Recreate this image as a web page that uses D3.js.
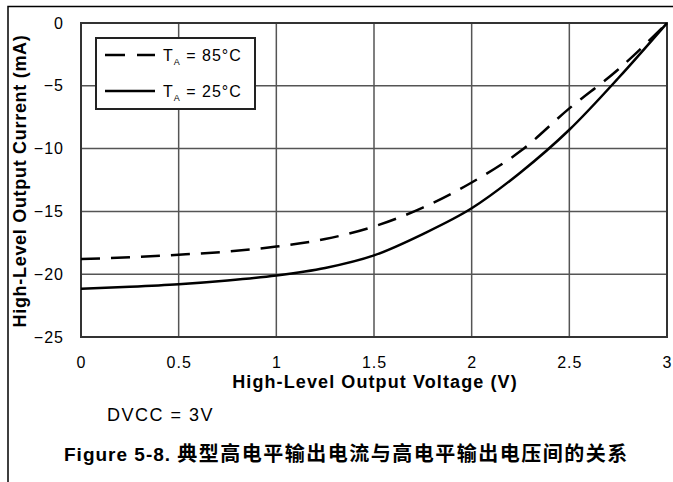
<!DOCTYPE html>
<html>
<head>
<meta charset="utf-8">
<script src="https://cdn.jsdelivr.net/npm/d3@7"></script>
<style>
  body { margin: 0; background: #fff; }
  svg { font-family: "Liberation Sans", Arial, "Noto Sans CJK SC", sans-serif; }
</style>
</head>
<body>
<svg id="chart" width="673" height="482"></svg>
<script>
// voltage (V)
const voltage = [0, 0.25, 0.5, 0.75, 1.0, 1.25, 1.5, 1.75, 2.0, 2.25, 2.5, 2.75, 3.0];
// current (mA) at TA = 85C
const current85 = [-18.8, -18.65, -18.45, -18.2, -17.8, -17.2, -16.2, -14.7, -12.7, -10.2, -6.8, -3.7, 0];
// current (mA) at TA = 25C
const current25 = [-21.15, -21.0, -20.8, -20.5, -20.1, -19.5, -18.5, -16.8, -14.75, -11.9, -8.5, -4.4, 0];
const xTicks = [0, 0.5, 1, 1.5, 2, 2.5, 3];
const yTicks = [0, -5, -10, -15, -20, -25];
const xTickLabels = ["0", "0.5", "1", "1.5", "2", "2.5", "3"];

const margin = {top: 23, right: 6, bottom: 145, left: 81};
const width = 673 - margin.left - margin.right;
const height = 482 - margin.top - margin.bottom;

const svg = d3.select("#chart");

// figure frame
svg.append("path")
    .attr("d", "M8,482 L8,6.5 L673,6.5")
    .attr("fill", "none")
    .attr("stroke", "#000")
    .attr("stroke-width", 1.5);

const g = svg.append("g").attr("transform", `translate(${margin.left},${margin.top})`);

const x = d3.scaleLinear().domain([0, 3]).range([0, width]);
const y = d3.scaleLinear().domain([-25, 0]).range([height, 0]);

// grid
g.append("g")
    .selectAll("line")
    .data(xTicks)
    .join("line")
    .attr("x1", d => x(d)).attr("x2", d => x(d))
    .attr("y1", 0).attr("y2", height)
    .attr("stroke", "#555").attr("stroke-width", 1.5);

g.append("g")
    .selectAll("line")
    .data(yTicks)
    .join("line")
    .attr("x1", 0).attr("x2", width)
    .attr("y1", d => y(d)).attr("y2", d => y(d))
    .attr("stroke", "#555").attr("stroke-width", 1.5);

g.append("rect")
    .attr("width", width).attr("height", height)
    .attr("fill", "none").attr("stroke", "#333").attr("stroke-width", 2);

// axes (labels only)
const xAxis = g.append("g")
    .attr("transform", `translate(0,${height})`)
    .call(d3.axisBottom(x).tickValues(xTicks).tickFormat((d, i) => xTickLabels[i]).tickSize(0).tickPadding(20));
xAxis.select(".domain").remove();
xAxis.selectAll("text")
    .attr("font-size", 16).attr("fill", "#000")
    .attr("letter-spacing", 1)
    .attr("font-family", "Liberation Sans, Arial, sans-serif");

const yAxis = g.append("g")
    .call(d3.axisLeft(y).tickValues(yTicks).tickFormat(d3.format("d")).tickSize(0).tickPadding(17));
yAxis.select(".domain").remove();
yAxis.selectAll("text")
    .attr("font-size", 16).attr("fill", "#000")
    .attr("letter-spacing", 1)
    .attr("font-family", "Liberation Sans, Arial, sans-serif");

// curves
const line = d3.line()
    .x(d => x(d[0]))
    .y(d => y(d[1]))
    .curve(d3.curveMonotoneX);

g.append("path")
    .datum(voltage.map((v, i) => [v, current85[i]]))
    .attr("d", line)
    .attr("fill", "none")
    .attr("stroke", "#000")
    .attr("stroke-width", 2.5)
    .attr("stroke-dasharray", "19,11");

g.append("path")
    .datum(voltage.map((v, i) => [v, current25[i]]))
    .attr("d", line)
    .attr("fill", "none")
    .attr("stroke", "#000")
    .attr("stroke-width", 2.5);

// legend
const legend = svg.append("g").attr("transform", "translate(96,38)");
legend.append("rect")
    .attr("width", 159).attr("height", 71)
    .attr("fill", "#fff").attr("stroke", "#222").attr("stroke-width", 2);

const legendItems = [
    {label: "85°C", dash: "20,12", y: 17},
    {label: "25°C", dash: null, y: 53}
];
legendItems.forEach(item => {
    legend.append("line")
        .attr("x1", 9).attr("x2", 59)
        .attr("y1", item.y).attr("y2", item.y)
        .attr("stroke", "#000").attr("stroke-width", 2.5)
        .attr("stroke-dasharray", item.dash);
    const t = legend.append("text")
        .attr("x", 67).attr("y", item.y + 6)
        .attr("font-size", 16)
        .attr("letter-spacing", 1);
    t.append("tspan").text("T");
    t.append("tspan").attr("font-size", 9).attr("dy", 4).text("A");
    t.append("tspan").attr("dy", -4).text(" = " + item.label);
});

// axis titles
svg.append("text")
    .attr("x", 375).attr("y", 388)
    .attr("text-anchor", "middle")
    .attr("font-size", 18).attr("font-weight", "bold")
    .attr("letter-spacing", 1.1)
    .text("High-Level Output Voltage (V)");

svg.append("text")
    .attr("transform", "translate(26,181) rotate(-90)")
    .attr("text-anchor", "middle")
    .attr("font-size", 18).attr("font-weight", "bold")
    .attr("letter-spacing", 0.7)
    .text("High-Level Output Current (mA)");

svg.append("text")
    .attr("x", 107).attr("y", 421)
    .attr("font-size", 18)
    .attr("letter-spacing", 1.5)
    .text("DVCC = 3V");

const caption = svg.append("text")
    .attr("x", 64).attr("y", 461)
    .attr("font-size", 19).attr("font-weight", "bold");
caption.append("tspan")
    .attr("letter-spacing", 1)
    .text("Figure 5-8. ");
caption.append("tspan")
    .attr("font-size", 20)
    .attr("letter-spacing", 1.5)
    .text("典型高电平输出电流与高电平输出电压间的关系");
</script>
</body>
</html>
